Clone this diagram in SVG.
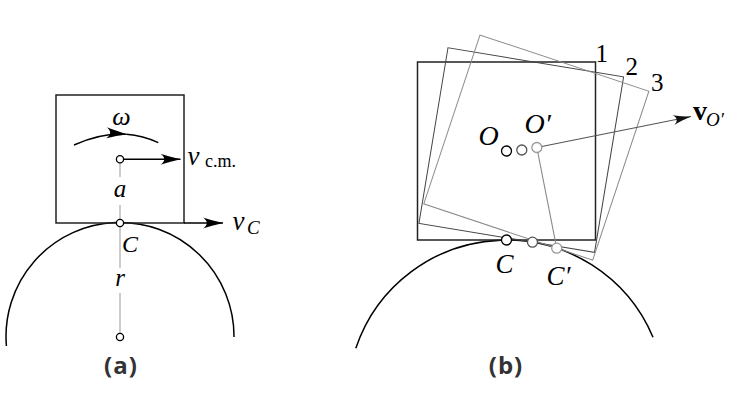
<svg xmlns="http://www.w3.org/2000/svg" width="740" height="416" viewBox="0 0 740 416">
<defs>
<marker id="arr" markerUnits="userSpaceOnUse" markerWidth="24" markerHeight="14" viewBox="-21 -7 22 14" refX="0" refY="0" orient="auto" overflow="visible">
<path d="M0,0 C-6,-1.5 -14,-3.5 -20,-5.5 C-15,-2 -15,2 -20,5.5 C-14,3.5 -6,1.5 0,0 Z" fill="#000"/>
</marker>
<marker id="arrs" markerUnits="userSpaceOnUse" markerWidth="24" markerHeight="14" viewBox="-21 -7 22 14" refX="0" refY="0" orient="auto" overflow="visible">
<path d="M0,0 C-6,-1.3 -13,-3 -18,-5 C-13.5,-2 -13.5,2 -18,5 C-13,3 -6,1.3 0,0 Z" fill="#111"/>
</marker>
</defs>
<style>
.sq{fill:none;stroke:#222;stroke-width:1.5}
.sq2{fill:none;stroke:#444;stroke-width:1}
.sq3{fill:none;stroke:#8a8a8a;stroke-width:1}
.arc{fill:none;stroke:#000;stroke-width:1.5}
.ln{fill:none;stroke:#000;stroke-width:1.4}
.gl{fill:none;stroke:#999;stroke-width:1}
.pt{fill:#fff;stroke:#000;stroke-width:1.3}
.pt2{fill:#fff;stroke:#555;stroke-width:1.3}
.pt3{fill:#fff;stroke:#999;stroke-width:1.3}
.m{font-family:"Liberation Serif","DejaVu Serif",serif;font-style:italic;fill:#000}
.r{font-family:"Liberation Serif","DejaVu Serif",serif;fill:#000}
.cap{font-family:"Open Sans","DejaVu Sans",sans-serif;font-weight:bold;fill:#333;font-size:24px;letter-spacing:1px}
</style>

<!-- Panel (a) -->
<g id="a-ground">
<path class="arc" d="M6.4,346 A114,114 0 1 1 234,337"/>
</g>
<g id="a-block">
<rect class="sq" x="56" y="95" width="128" height="128"/>
</g>
<g id="a-connectors">
<line class="gl" x1="120" y1="163" x2="120" y2="177"/>
<line class="gl" x1="120" y1="205" x2="120" y2="219.5"/>
<line class="gl" x1="120" y1="226.5" x2="120" y2="268"/>
<line class="gl" x1="120" y1="293" x2="120" y2="333.5"/>
<line class="ln" x1="123.5" y1="159.3" x2="180.5" y2="159.3" marker-end="url(#arr)"/>
<line class="ln" x1="184" y1="223" x2="223" y2="223" marker-end="url(#arr)"/>
<path class="ln" d="M74,145 Q101.6,132.5 126.4,134.2" marker-end="url(#arr)"/>
<path class="ln" d="M126.4,134.2 Q143,135.3 158.3,142.7"/>
</g>
<g id="a-points">
<circle class="pt" cx="120" cy="159.3" r="3.6"/>
<circle class="pt" cx="120" cy="223" r="3.6"/>
<circle class="pt" cx="120" cy="337" r="3.6"/>
</g>
<g id="a-labels">
<text class="m" x="121.5" y="125" font-size="26" text-anchor="middle">ω</text>
<text class="m" x="187.5" y="165" font-size="27">v</text>
<text class="r" x="205" y="167" font-size="18">c.m.</text>
<text class="m" x="232.5" y="230" font-size="27">v</text>
<text class="m" x="247" y="234" font-size="19">C</text>
<text class="m" x="120" y="197" font-size="25" text-anchor="middle">a</text>
<text class="m" x="122" y="252" font-size="24">C</text>
<text class="m" x="120" y="286" font-size="25" text-anchor="middle">r</text>
<text class="cap" x="121" y="374" text-anchor="middle">(a)</text>
</g>

<!-- Panel (b) -->
<g id="b-ground">
<path class="arc" d="M355.8,348.3 A159,159 0 0 1 653,337.3"/>
</g>
<g id="b-square1">
<rect class="sq" x="417.5" y="62" width="178" height="178"/>
</g>
<g id="b-square2">
<rect class="sq2" x="-115.09" y="-178" width="178" height="178" transform="translate(532.47 242.13) rotate(9.4)"/>
</g>
<g id="b-square3">
<rect class="sq3" x="-140.06" y="-178" width="178" height="178" transform="translate(556.69 248.13) rotate(18.4)"/>
</g>
<g id="b-connectors">
<line x1="536.85" y1="147.5" x2="556.69" y2="248.13" stroke="#888" stroke-width="1.1"/>
<line x1="536.85" y1="147.5" x2="691" y2="116.5" stroke="#555" stroke-width="1.1" marker-end="url(#arrs)"/>
</g>
<g id="b-points">
<circle class="pt" cx="506.5" cy="151" r="5"/>
<circle class="pt2" cx="521.8" cy="150" r="5"/>
<circle class="pt3" cx="536.85" cy="147.5" r="5"/>
<circle class="pt" cx="506.5" cy="240" r="5"/>
<circle class="pt2" cx="532.47" cy="242.13" r="5"/>
<circle class="pt3" cx="556.69" cy="248.13" r="5"/>
</g>
<g id="b-labels">
<text class="r" x="595.5" y="61.5" font-size="25">1</text>
<text class="r" x="625.5" y="75" font-size="25">2</text>
<text class="r" x="651" y="91" font-size="25">3</text>
<text class="r" x="693" y="120" font-size="28" font-weight="bold">v</text>
<text class="m" x="706" y="125.5" font-size="19">O′</text>
<text class="m" x="478.5" y="145" font-size="28">O</text>
<text class="m" x="524.5" y="133" font-size="28">O′</text>
<text class="m" x="495.5" y="273" font-size="27">C</text>
<text class="m" x="546.5" y="285" font-size="27">C′</text>
<text class="cap" x="506" y="374" text-anchor="middle">(b)</text>
</g>
</svg>
